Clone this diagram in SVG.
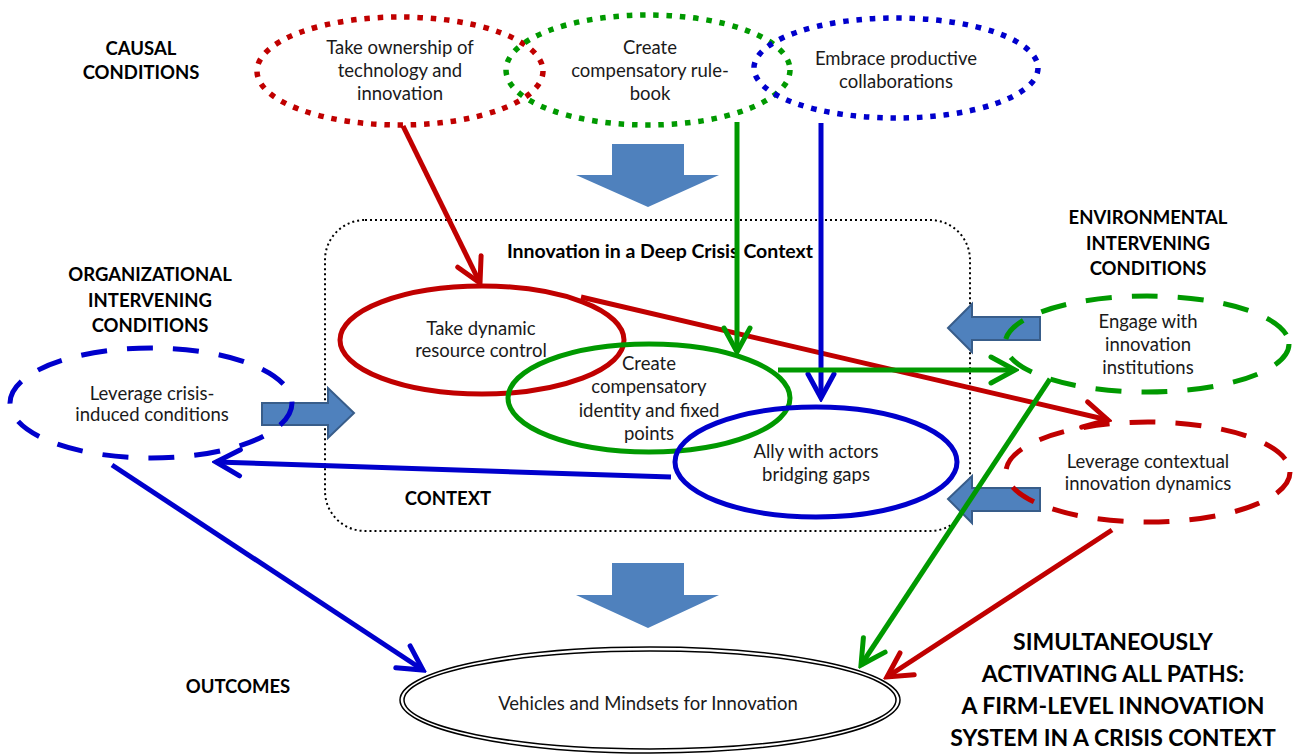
<svg xmlns="http://www.w3.org/2000/svg" width="1295" height="754" viewBox="0 0 1295 754">
  <style>
    .lbl { font-family: Lato, "Liberation Sans", sans-serif; font-size: 18.5px; fill: #1a1a1a; text-anchor: middle; }
    .hd { font-family: Lato, "Liberation Sans", sans-serif; font-size: 18.5px; font-weight: bold; fill: #000; text-anchor: middle; }
    .ttl { font-family: Lato, "Liberation Sans", sans-serif; font-size: 19.5px; font-weight: bold; fill: #000; text-anchor: middle; }
    .big { font-family: Lato, "Liberation Sans", sans-serif; font-size: 23px; font-weight: bold; fill: #000; text-anchor: middle; }
    .dot { fill: none; stroke-width: 5.5; stroke-dasharray: 5.5 7.8; }
    .dash { fill: none; stroke-width: 5; stroke-dasharray: 26 20; }
    .solid { fill: none; stroke-width: 5; }
    .blk { fill: #4F81BD; }
    .side { fill: #4F81BD; stroke: #385D8A; stroke-width: 2; }
    .red { stroke: #C00000; }
    .grn { stroke: #009900; }
    .blu { stroke: #0000CC; }
    .conn line { stroke-width: 5; fill: none; }
  </style>
  <defs>
    <marker id="ahR" viewBox="-28 -17 32 34" markerWidth="32" markerHeight="34" refX="0" refY="0" orient="auto" markerUnits="userSpaceOnUse">
      <path d="M-24,-13 L0,0 L-24,13" fill="none" stroke="#C00000" stroke-width="5" stroke-linecap="round"/>
    </marker>
    <marker id="ahG" viewBox="-28 -17 32 34" markerWidth="32" markerHeight="34" refX="0" refY="0" orient="auto" markerUnits="userSpaceOnUse">
      <path d="M-24,-13 L0,0 L-24,13" fill="none" stroke="#009900" stroke-width="5" stroke-linecap="round"/>
    </marker>
    <marker id="ahB" viewBox="-28 -17 32 34" markerWidth="32" markerHeight="34" refX="0" refY="0" orient="auto" markerUnits="userSpaceOnUse">
      <path d="M-24,-13 L0,0 L-24,13" fill="none" stroke="#0000CC" stroke-width="5" stroke-linecap="round"/>
    </marker>
  </defs>

  <rect width="1295" height="754" fill="#fff"/>

  <!-- section headings -->
  <g id="headings">
    <text class="hd" x="141" y="55">CAUSAL</text>
    <text class="hd" x="141" y="79">CONDITIONS</text>
    <text class="hd" x="150" y="281">ORGANIZATIONAL</text>
    <text class="hd" x="150" y="307">INTERVENING</text>
    <text class="hd" x="150" y="332">CONDITIONS</text>
    <text class="hd" x="1148" y="224">ENVIRONMENTAL</text>
    <text class="hd" x="1148" y="250">INTERVENING</text>
    <text class="hd" x="1148" y="275">CONDITIONS</text>
    <text class="hd" x="238" y="693">OUTCOMES</text>
    <text class="big" x="1113" y="650">SIMULTANEOUSLY</text>
    <text class="big" x="1113" y="682">ACTIVATING ALL PATHS:</text>
    <text class="big" x="1113" y="714">A FIRM-LEVEL INNOVATION</text>
    <text class="big" x="1113" y="746">SYSTEM IN A CRISIS CONTEXT</text>
  </g>

  <!-- context frame -->
  <g id="context">
    <rect x="325" y="220" width="645" height="311" rx="40" ry="40" fill="none" stroke="#000" stroke-width="2" stroke-dasharray="2 3"/>
    <text class="ttl" x="660" y="258">Innovation in a Deep Crisis Context</text>
    <text class="hd" x="448" y="505">CONTEXT</text>
  </g>

  <!-- block arrows -->
  <g id="block-arrows">
    <path class="blk" d="M612,144 L684,144 L684,175 L719,175 L648,207 L576,175 L612,175 Z"/>
    <path class="blk" d="M612,563 L684,563 L684,595 L719,595 L648,628 L576,595 L612,595 Z"/>
    <path class="side" d="M262,403 L328,403 L328,388 L354,413 L328,438 L328,425 L262,425 Z"/>
    <path class="side" d="M948,328 L972,304 L972,317 L1040,317 L1040,340 L972,340 L972,352 Z"/>
    <path class="side" d="M948,499 L972,476 L972,488 L1040,488 L1040,511 L972,511 L972,523 Z"/>
  </g>

  <!-- causal conditions -->
  <g id="n-ownership">
    <ellipse class="dot red" cx="400" cy="71" rx="143" ry="54"/>
    <text class="lbl" x="400" y="54">Take ownership of</text>
    <text class="lbl" x="400" y="77">technology and</text>
    <text class="lbl" x="400" y="100">innovation</text>
  </g>
  <g id="n-rulebook">
    <ellipse class="dot grn" cx="648" cy="70" rx="142" ry="55"/>
    <text class="lbl" x="650" y="54">Create</text>
    <text class="lbl" x="650" y="77">compensatory rule-</text>
    <text class="lbl" x="650" y="100">book</text>
  </g>
  <g id="n-collab">
    <ellipse class="dot blu" cx="896" cy="68" rx="142" ry="50"/>
    <text class="lbl" x="896" y="65">Embrace productive</text>
    <text class="lbl" x="896" y="88">collaborations</text>
  </g>

  <!-- core strategies -->
  <g id="n-resource">
    <ellipse class="solid red" cx="482" cy="340" rx="142" ry="54"/>
    <text class="lbl" x="481" y="335">Take dynamic</text>
    <text class="lbl" x="481" y="357">resource control</text>
  </g>
  <g id="n-identity">
    <ellipse class="solid grn" cx="649" cy="398" rx="141" ry="54"/>
    <text class="lbl" x="649" y="370">Create</text>
    <text class="lbl" x="649" y="393">compensatory</text>
    <text class="lbl" x="649" y="417">identity and fixed</text>
    <text class="lbl" x="649" y="440">points</text>
  </g>
  <g id="n-ally">
    <ellipse class="solid blu" cx="816" cy="462" rx="141" ry="55"/>
    <text class="lbl" x="816" y="458">Ally with actors</text>
    <text class="lbl" x="816" y="481">bridging gaps</text>
  </g>

  <!-- intervening conditions -->
  <g id="n-crisis">
    <ellipse class="dash blu" cx="151" cy="403" rx="141" ry="55"/>
    <text class="lbl" x="152" y="400">Leverage crisis-</text>
    <text class="lbl" x="152" y="421">induced conditions</text>
  </g>
  <g id="n-institutions">
    <ellipse class="dash grn" cx="1147" cy="344" rx="142" ry="48"/>
    <text class="lbl" x="1148" y="328">Engage with</text>
    <text class="lbl" x="1148" y="351">innovation</text>
    <text class="lbl" x="1148" y="374">institutions</text>
  </g>
  <g id="n-dynamics">
    <ellipse class="dash red" cx="1148" cy="472" rx="142" ry="50"/>
    <text class="lbl" x="1148" y="468">Leverage contextual</text>
    <text class="lbl" x="1148" y="490">innovation dynamics</text>
  </g>

  <!-- outcome -->
  <g id="n-outcome">
    <ellipse cx="650" cy="700" rx="250" ry="53" fill="none" stroke="#000" stroke-width="1.5"/>
    <ellipse cx="650" cy="700" rx="246" ry="49" fill="none" stroke="#000" stroke-width="1.5"/>
    <text class="lbl" x="648" y="710">Vehicles and Mindsets for Innovation</text>
  </g>

  <!-- connectors -->
  <g id="connectors" class="conn">
    <line class="red" x1="403" y1="126" x2="480" y2="283" marker-end="url(#ahR)"/>
    <line class="red" x1="581" y1="297" x2="1108" y2="420" marker-end="url(#ahR)"/>
    <line class="grn" x1="737" y1="122" x2="737" y2="352" marker-end="url(#ahG)"/>
    <line class="blu" x1="821" y1="123" x2="821" y2="398" marker-end="url(#ahB)"/>
    <line class="grn" x1="778" y1="370" x2="1015" y2="370" marker-end="url(#ahG)"/>
    <line class="grn" x1="1050" y1="379" x2="861" y2="665" marker-end="url(#ahG)"/>
    <line class="red" x1="1112" y1="530" x2="887" y2="677" marker-end="url(#ahR)"/>
    <line class="blu" x1="671" y1="477" x2="216" y2="462" marker-end="url(#ahB)"/>
    <line class="blu" x1="112" y1="465" x2="423" y2="670" marker-end="url(#ahB)"/>
  </g>
</svg>
